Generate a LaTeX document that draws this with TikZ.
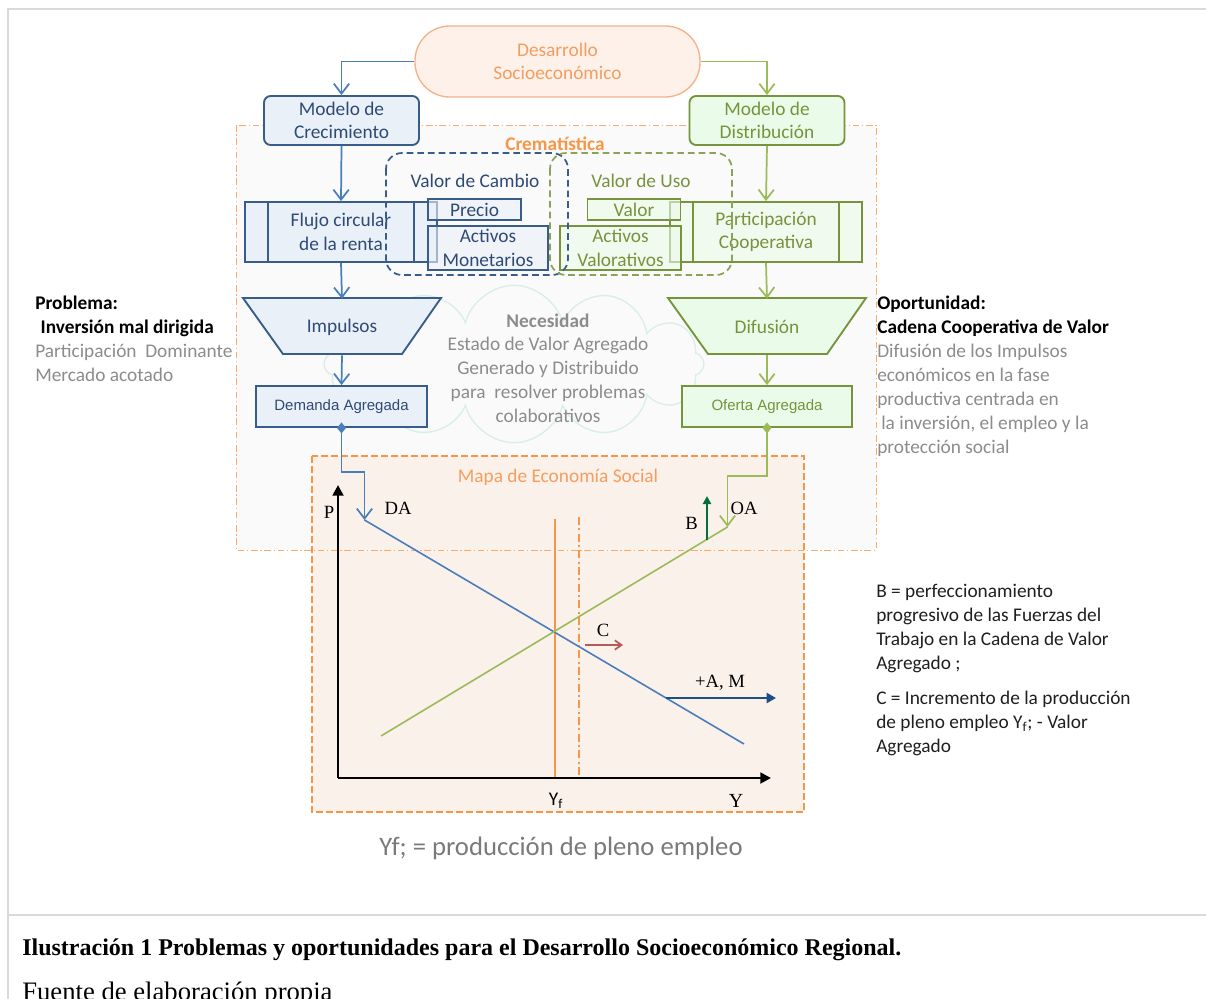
\documentclass[tikz,border=0pt]{standalone}
\usepackage{fontspec}
\setmainfont{Carlito}
\newfontfamily\serifface{Liberation Serif}
\newfontfamily\arialface{Liberation Sans}
\usetikzlibrary{arrows.meta,shapes.symbols,calc}

\definecolor{bluedark}{HTML}{385D8A}
\definecolor{bluetext}{HTML}{2F4A77}
\definecolor{bluefill}{HTML}{EAF0F7}
\definecolor{bluearrow}{HTML}{4A7EBB}
\definecolor{greendark}{HTML}{77933C}
\definecolor{greenfill}{HTML}{EBFBE9}
\definecolor{greenarrow}{HTML}{9BBB59}
\definecolor{orangeline}{HTML}{F79646}
\definecolor{orangesoft}{HTML}{F59D5E}
\definecolor{pillfill}{HTML}{FDF1EA}
\definecolor{pillline}{HTML}{F5B287}
\definecolor{mapfill}{HTML}{FBF1EB}
\definecolor{framegray}{HTML}{D9D9D9}
\definecolor{softgray}{HTML}{8C8C8C}
\definecolor{cloudline}{HTML}{D8EEEA}
\definecolor{cremafill}{HTML}{FAFAFA}
\definecolor{shiftred}{HTML}{B45B58}
\definecolor{shiftblue}{HTML}{1D4F86}
\definecolor{shiftgreen}{HTML}{00703C}

\newcommand\cfont{\fontsize{14.5pt}{17.5pt}\selectfont}
\newcommand\sidefont{\fontsize{14.5pt}{18pt}\selectfont}
\newcommand\plotfont{\serifface\fontsize{14pt}{15pt}\selectfont}

\tikzset{
  boxtext/.style={align=center, font=\cfont, inner sep=0pt},
  bluebox/.style={boxtext, rectangle, draw=bluedark, fill=bluefill, text=bluetext, line width=1.4pt},
  greenbox/.style={boxtext, rectangle, draw=greendark, fill=greenfill, text=greendark, line width=1.4pt},
  seethrough/.style={fill opacity=0.6, text opacity=1},
  pill/.style={boxtext, rectangle, rounded corners=26pt, minimum width=213.75pt,
    minimum height=53.25pt, draw=pillline, fill=pillfill, text=orangesoft, line width=1pt},
  bluelink/.style={draw=bluearrow, line width=1.3pt, -{Straight Barb[length=7.5pt,width=11.5pt]}},
  greenlink/.style={draw=greenarrow, line width=1.3pt, -{Straight Barb[length=7.5pt,width=11.5pt]}},
  axisline/.style={draw=black, line width=2.2pt, -{Triangle[length=8pt,width=8pt]}},
  plotlabel/.style={font=\plotfont, inner sep=0pt},
  sidetext/.style={anchor=north west, align=left, inner sep=0pt, font=\sidefont},
}

\begin{document}
\begin{tikzpicture}[x=0.75pt,y=-0.75pt]
\useasboundingbox (0,0) rectangle (1206,999);
\fill[white] (0,0) rectangle (1206,999);
\clip (0,0) rectangle (1206,999);

% page frame
\draw[framegray, line width=1.4pt] (8,1000) -- (8,9) -- (1207,9);
\draw[framegray, line width=1.4pt] (8,915) -- (1207,915);

% chrematistics area, need cloud and social economy map
\fill[cremafill] (236,125) rectangle (876,550);
\node[cloud, cloud puffs=12, aspect=2.4, draw=cloudline, line width=1pt,
      minimum width=285pt, minimum height=118pt, inner sep=0pt] (nube) at (514,364) {};
\filldraw[fill=mapfill, draw=orangeline, line width=1.2pt, dash pattern=on 5pt off 2.5pt]
  (312,456) rectangle (804,812);
\draw[orangeline!80, line width=0.6pt, dash pattern=on 5pt off 2pt on 1pt off 2pt]
  (236,125) rectangle (876,550);
\node[font=\cfont\bfseries, text=orangeline, inner sep=0pt] (crem) at (555,144) {Crematística};

% top of the hierarchy
\node[pill] (des) at (557.5,61.5) {Desarrollo\\Socioeconómico};
\node[bluebox, rounded corners=5pt, minimum width=116.25pt, minimum height=36.75pt] (mc)
  at (341.5,120.5) {Modelo de\\Crecimiento};
\node[greenbox, rounded corners=5pt, minimum width=116.25pt, minimum height=36.75pt] (md)
  at (767,120.5) {Modelo de\\Distribución};

% process boxes
\node[bluebox, minimum width=144pt, minimum height=45pt] (flujo) at (341,232) {\raisebox{-1.5pt}{Flujo circular}\\\raisebox{-1.5pt}{de la renta}};
\draw[bluedark, line width=1.4pt]
  ([xshift=18pt]flujo.north west) -- ([xshift=18pt]flujo.south west)
  ([xshift=-18pt]flujo.north east) -- ([xshift=-18pt]flujo.south east);
\node[greenbox, seethrough, minimum width=144pt, minimum height=45pt] (part) at (766,232) {\raisebox{-1.5pt}{Participación}\\\raisebox{-1.5pt}{Cooperativa}};
\draw[greendark, line width=1.4pt]
  ([xshift=18pt]part.north west) -- ([xshift=18pt]part.south west)
  ([xshift=-18pt]part.north east) -- ([xshift=-18pt]part.south east);

% exchange value / use value
\node[bluebox, seethrough, minimum width=69.75pt, minimum height=15.75pt] (precio) at (474.5,209.5) {Precio};
\node[bluebox, seethrough, minimum width=90pt, minimum height=33pt] (amon) at (488,248) {Activos\\Monetarios};
\node[greenbox, seethrough, minimum width=69.75pt, minimum height=15.75pt] (valor) at (634,209.5) {Valor};
\node[greenbox, seethrough, minimum width=90.75pt, minimum height=33pt] (aval) at (620.5,248) {Activos\\Valorativos};
\draw[bluedark, line width=1.3pt, dash pattern=on 5pt off 3pt, rounded corners=12pt]
  (386,153) rectangle (568,275);
\draw[greendark!85, line width=1.3pt, dash pattern=on 5pt off 3pt, rounded corners=12pt]
  (550,153) rectangle (732,275);
\node[font=\cfont, text=bluetext, inner sep=0pt] (vcam) at (475,181) {Valor de Cambio};
\node[font=\cfont, text=greendark, inner sep=0pt] (vuso) at (641,181) {Valor de Uso};

% impulses and diffusion
\filldraw[draw=bluedark, fill=bluefill, line width=1.4pt] (243,298) -- (441,298) -- (402,354) -- (283,354) -- cycle;
\node[font=\cfont, text=bluetext, inner sep=0pt, minimum width=89pt, minimum height=42pt] (imp) at (342,327) {Impulsos};
\filldraw[draw=greendark, fill=greenfill, line width=1.4pt] (668,298) -- (866,298) -- (827,354) -- (708,354) -- cycle;
\node[font=\cfont, text=greendark, inner sep=0pt, minimum width=89pt, minimum height=42pt] (dif) at (767,327) {Difusión};

% aggregate demand and supply
\node[bluebox, font=\arialface\fontsize{11.25pt}{13pt}\selectfont, minimum width=128.25pt, minimum height=30.75pt]
  (dem) at (341.5,406.5) {Demanda Agregada};
\node[greenbox, font=\arialface\fontsize{11.25pt}{13pt}\selectfont, minimum width=127.5pt, minimum height=30.75pt]
  (ofe) at (767,406.5) {Oferta Agregada};

% need
\node[align=center, font=\fontsize{14.5pt}{17.8pt}\selectfont, text=softgray, inner sep=0pt] (nec) at (548,368)
  {\textbf{Necesidad}\\Estado de Valor Agregado\\Generado y Distribuido\\para~~resolver problemas\\colaborativos};

% connectors
\draw[bluelink] (des.west) -| (mc.north);
\draw[greenlink] (des.east) -| (md.north);
\draw[bluelink] (mc.south) -- (flujo.north);
\draw[greenlink] (md.south) -- (part.north);
\draw[bluelink] (flujo.south) -- (imp.north);
\draw[greenlink] (part.south) -- (dif.north);
\draw[bluelink] (imp.south) -- (dem.north);
\draw[greenlink] (dif.south) -- (ofe.north);

\coordinate (daTop) at (364.5,520);
\coordinate (daEnd) at (744,744);
\coordinate (oaTop) at (727.5,527);
\coordinate (oaEnd) at (381,736);
\draw[bluelink] (dem.south) -- ++(0,44) -| (daTop);
\draw[greenlink] (ofe.south) -- ++(0,48) -| (oaTop);
\fill[bluearrow] ($(dem.south)+(0,-5.5)$) -- ++(4.5,5.5) -- ++(-4.5,5.5) -- ++(-4.5,-5.5) -- cycle;
\fill[greenarrow] ($(ofe.south)+(0,-5.5)$) -- ++(4.5,5.5) -- ++(-4.5,5.5) -- ++(-4.5,-5.5) -- cycle;

% side texts
\node[sidetext] (prob) at (35,296)
  {\textbf{Problema:}\\\hspace*{4pt}\textbf{Inversión mal dirigida}\\
   \textcolor{softgray}{Participación~~Dominante}\\\textcolor{softgray}{Mercado acotado}};
\node[sidetext] (opor) at (877,296)
  {\textbf{Oportunidad:}\\\textbf{Cadena Cooperativa de Valor}\\
   \textcolor{softgray}{Difusión de los Impulsos}\\
   \textcolor{softgray}{económicos en la fase}\\
   \textcolor{softgray}{productiva centrada en}\\
   \textcolor{softgray}{\hspace*{3pt}la inversión, el empleo y la}\\
   \textcolor{softgray}{protección social}};
\node[sidetext, text=black!88] (notas) at (876,584)
  {B = perfeccionamiento\\progresivo de las Fuerzas del\\Trabajo en la Cadena de Valor\\Agregado ;\\[8pt]
   C = Incremento de la producción\\de pleno empleo Y\textsubscript{f}; - Valor\\Agregado};

% social economy map
\node[font=\cfont, text=orangesoft, inner sep=0pt] (mapa) at (558,477) {Mapa de Economía Social};
\coordinate (O) at (338,778);
\draw[orangeline, line width=1.3pt] (555,519) -- (555,778);
\draw[orangeline, line width=1.3pt, dash pattern=on 6pt off 2.5pt on 1.5pt off 2.5pt] (579,517) -- (579,778);
\draw[axisline] (O) -- (338,485);
\draw[axisline] (O) -- (771,778);
\draw[bluearrow, line width=1.2pt] (daTop) -- (daEnd);
\draw[greenarrow, line width=1.2pt] (oaEnd) -- (oaTop);
\draw[shiftgreen, line width=2pt, -{Triangle[length=6pt,width=6pt]}] (707,540) -- (707,496);
\draw[shiftred, line width=1.3pt, -{Straight Barb[length=5pt,width=7pt]}] (585,645) -- (623,645);
\draw[shiftblue, line width=2.2pt, -{Triangle[length=7pt,width=7.5pt]}] (666,698) -- (776,698);

\node[plotlabel] (lp) at (329,512) {P};
\node[plotlabel] (lda) at (398,508) {DA};
\node[plotlabel] (loa) at (744,508) {OA};
\node[plotlabel] (lb) at (691.5,523) {B};
\node[plotlabel] (lc) at (603,630) {C};
\node[plotlabel] (lam) at (720,683) {+A, M};
\node[font=\cfont, inner sep=0pt] (lyf) at (556,801) {Y\textsubscript{f}};
\node[plotlabel, font=\serifface\fontsize{15pt}{16pt}\selectfont] (ly) at (736,801) {Y};
\node[font=\fontsize{20pt}{24pt}\selectfont, text=black!52, inner sep=0pt] (pleno) at (561,848)
  {Yf; = producción de pleno empleo};

% caption
\node[anchor=base west, inner sep=0pt, font=\serifface\bfseries\fontsize{18pt}{20pt}\selectfont] (cap) at (22,955)
  {Ilustración 1 Problemas y oportunidades para el Desarrollo Socioeconómico Regional.};
\node[anchor=base west, inner sep=0pt, font=\serifface\fontsize{20pt}{22pt}\selectfont] (fuente) at (22,1000)
  {Fuente de elaboración propia};
\end{tikzpicture}
\end{document}
